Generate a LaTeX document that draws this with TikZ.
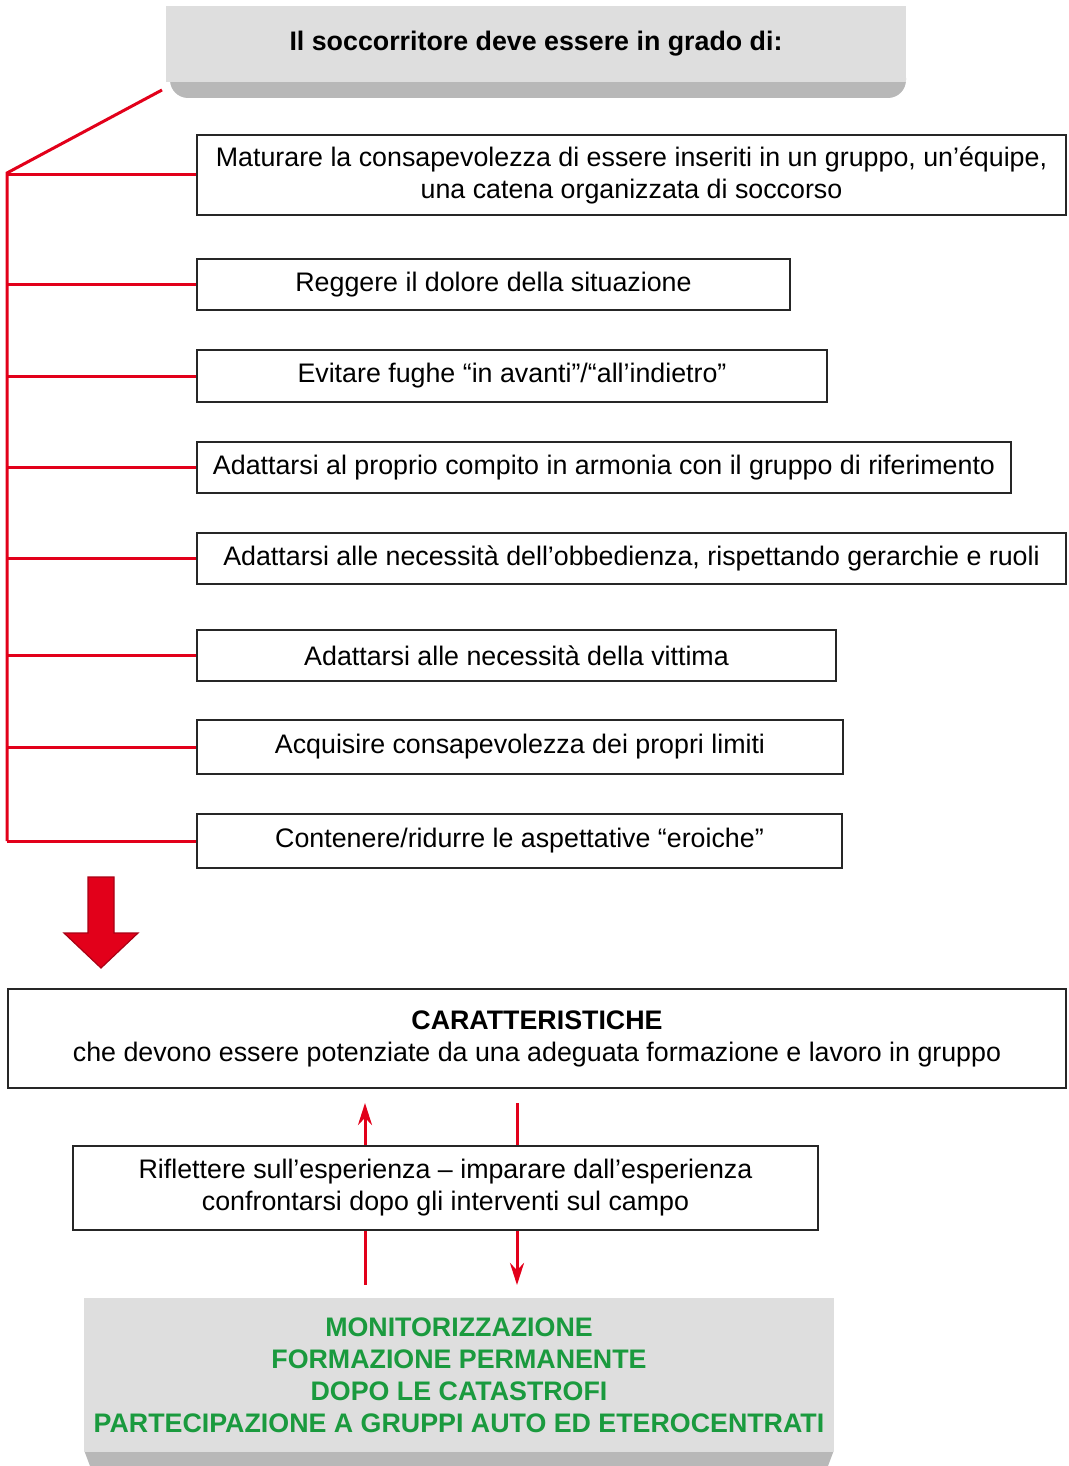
\documentclass[tikz,border=0pt]{standalone}
\usepackage{fontspec}
\setmainfont{Liberation Sans}
\usetikzlibrary{arrows.meta}

\definecolor{aidred}{RGB}{226,0,26}
\definecolor{panelgray}{RGB}{222,222,222}
\definecolor{shadowgray}{RGB}{184,184,184}
\definecolor{aidgreen}{RGB}{26,154,62}

\begin{document}
\begin{tikzpicture}[
    x=0.5pt, y=-0.5pt,
    font=\fontsize{13.4}{16}\selectfont,
    itembox/.style = {draw=black!85, line width=0.8pt, fill=white, align=center, inner sep=0pt},
    panel/.style   = {fill=panelgray, align=center, inner sep=0pt},
    branch/.style  = {draw=aidred, line width=1.5pt},
    link/.style    = {draw=aidred, line width=1.5pt},
    tip/.style     = {-{Stealth[length=11pt, width=7pt]}}
  ]

    \useasboundingbox (0,0) rectangle (1069,1466);

    %% ---- heading ----
    \fill[shadowgray, rounded corners=9pt] (170,60) -- (170,98) -- (906,98) -- (906,60) -- cycle;
    \node[panel, minimum width=370pt, minimum height=38pt] (head) at (536,44)
      {\bfseries\raisebox{-1.5pt}{Il soccorritore deve essere in grado di:}};

    %% ---- list of abilities ----
    \node[itembox, minimum width=434.5pt, minimum height=40pt] (m1) at (631.5,175)
      {Maturare la consapevolezza di essere inseriti in un gruppo, un’équipe,\\una catena organizzata di soccorso};
    \node[itembox, minimum width=296.5pt, minimum height=25.5pt] (m2) at (493.5,284.5)
      {Reggere il dolore della situazione};
    \node[itembox, minimum width=315pt, minimum height=26pt] (m3) at (512,376)
      {Evitare fughe “in avanti”/“all’indietro”};
    \node[itembox, minimum width=407pt, minimum height=25.5pt] (m4) at (604,467.5)
      {Adattarsi al proprio compito in armonia con il gruppo di riferimento};
    \node[itembox, minimum width=434.5pt, minimum height=25.5pt] (m5) at (631.5,558.5)
      {Adattarsi alle necessità dell’obbedienza, rispettando gerarchie e ruoli};
    \node[itembox, minimum width=319.5pt, minimum height=25.5pt] (m6) at (516.5,655.5)
      {Adattarsi alle necessità della vittima};
    \node[itembox, minimum width=323pt, minimum height=27pt] (m7) at (520,747)
      {Acquisire consapevolezza dei propri limiti};
    \node[itembox, minimum width=322.5pt, minimum height=27pt] (m8) at (519.5,841)
      {Contenere/ridurre le aspettative “eroiche”};

    %% ---- red tree ----
    \coordinate (start) at (162,90);
    \coordinate (trunk) at (7,173);
    \draw[branch] (start) -- (trunk) -- (trunk |- m8.west);
    \foreach \i in {1,...,8}
      \draw[branch] (trunk |- m\i.west) -- (m\i.west);

    %% ---- big arrow ----
    \filldraw[fill=aidred, draw=aidred!75!black, line width=0.6pt]
      (88,877) -- (114,877) -- (114,933) -- (138,933) -- (101,968) -- (64,933) -- (88,933) -- cycle;

    %% ---- characteristics ----
    \node[itembox, minimum width=529pt, minimum height=49.5pt] (car) at (537,1038.5)
      {\bfseries CARATTERISTICHE\\che devono essere potenziate da una adeguata formazione e lavoro in gruppo};

    \node[itembox, minimum width=372.5pt, minimum height=42pt] (refl) at (445.5,1188)
      {Riflettere sull’esperienza – imparare dall’esperienza\\confrontarsi dopo gli interventi sul campo};

    %% ---- bottom panel ----
    \fill[shadowgray] (84,1450) -- (834,1450) -- (828,1466) -- (90,1466) -- cycle;
    \node[panel, minimum width=375pt, minimum height=77pt, text=aidgreen] (mon) at (459,1375)
      {\bfseries MONITORIZZAZIONE\\\bfseries FORMAZIONE PERMANENTE\\\bfseries DOPO LE CATASTROFI\\
       \bfseries PARTECIPAZIONE A GRUPPI AUTO ED ETEROCENTRATI};

    %% ---- feedback links ----
    \coordinate (upA) at (365,1103);
    \coordinate (upB) at (517,1103);
    \coordinate (dnA) at (365,1285);
    \coordinate (dnB) at (517,1285);
    \draw[link, tip] (refl.north -| upA) -- (upA);
    \draw[link] (upB) -- (refl.north -| upB);
    \draw[link] (refl.south -| dnA) -- (dnA);
    \draw[link, tip] (refl.south -| dnB) -- (dnB);

  \end{tikzpicture}
\end{document}
